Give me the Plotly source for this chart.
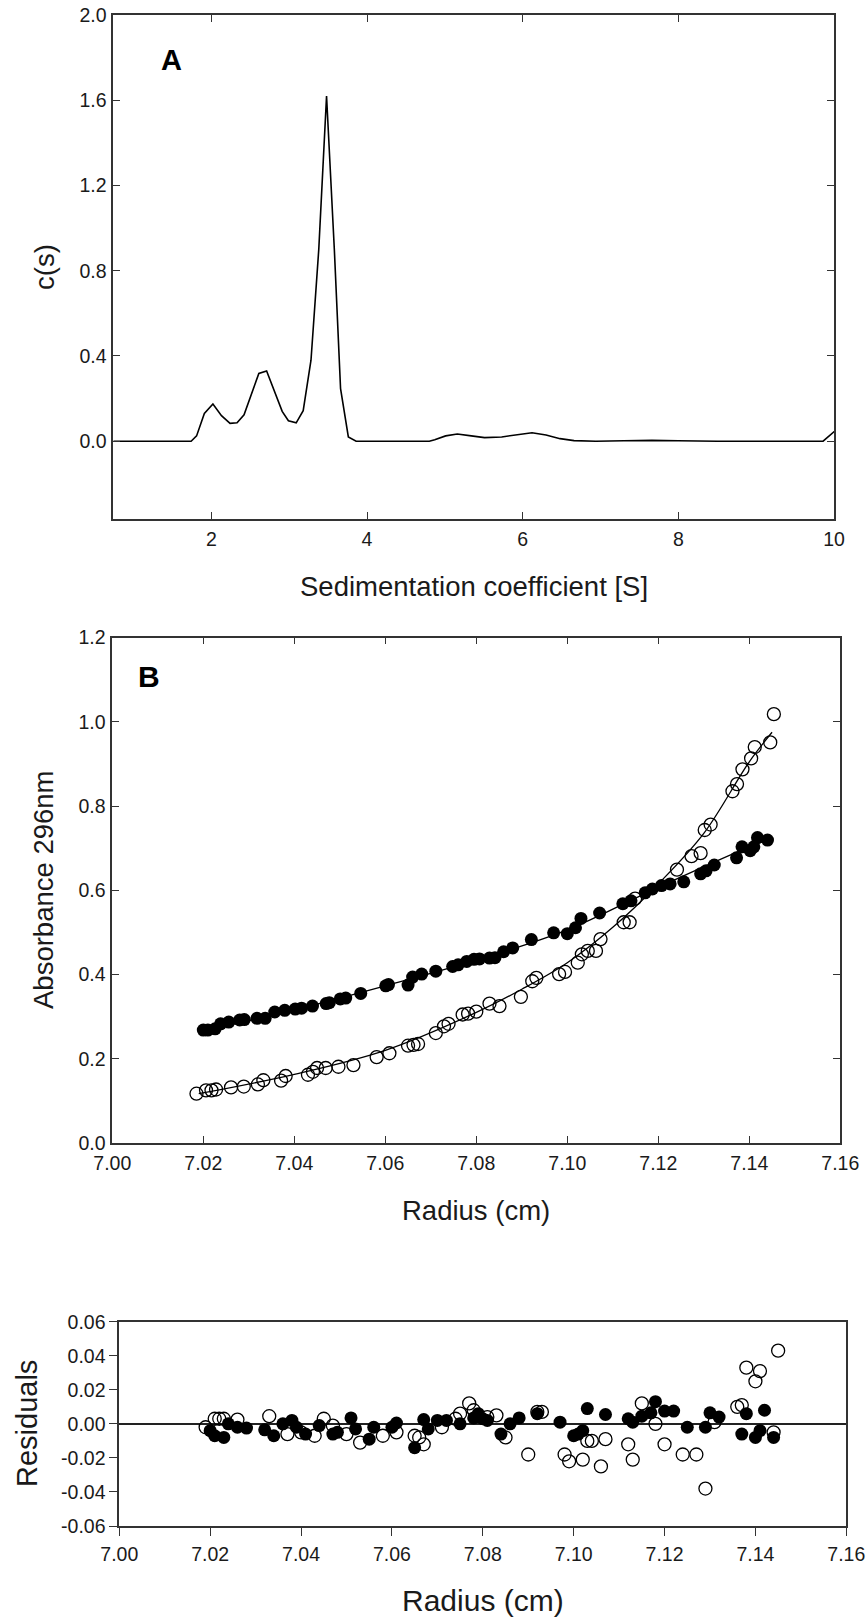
import plotly.graph_objects as go

# ---------------- Panel A: c(s) distribution ----------------
s_vals = [0.74, 1.74, 1.81, 1.91, 2.02, 2.13, 2.24, 2.33, 2.42, 2.51, 2.61, 2.71, 2.80, 2.91, 2.99,
          3.09, 3.18, 3.28, 3.38, 3.48, 3.58, 3.66, 3.76, 3.86, 4.80, 4.87, 5.01, 5.16, 5.34, 5.51,
          5.73, 5.94, 6.12, 6.30, 6.48, 6.66, 6.94, 7.30, 7.66, 8.00, 8.50, 9.86, 10.05]
cs_vals = [0.0, 0.0, 0.025, 0.13, 0.175, 0.12, 0.084, 0.087, 0.124, 0.22, 0.318, 0.33, 0.24, 0.14, 0.096,
           0.086, 0.143, 0.38, 0.9, 1.62, 0.9, 0.247, 0.02, 0.0, 0.0, 0.007, 0.025, 0.034, 0.025, 0.017,
           0.02, 0.032, 0.04, 0.029, 0.012, 0.003, 0.0, 0.002, 0.004, 0.002, 0.0, 0.0, 0.06]

# ---------------- Panel B: absorbance vs radius ----------------
r_filled = [7.0200, 7.0210, 7.0226, 7.0238, 7.0256, 7.0280, 7.0290, 7.0318, 7.0336, 7.0357, 7.0379,
            7.0402, 7.0416, 7.0440, 7.0470, 7.0477, 7.0501, 7.0513, 7.0546, 7.0601, 7.0607, 7.0650,
            7.0660, 7.0680, 7.0711, 7.0748, 7.0760, 7.0779, 7.0795, 7.0807, 7.0829, 7.0841, 7.0860,
            7.0880, 7.0921, 7.0970, 7.1000, 7.1018, 7.1030, 7.1071, 7.1122, 7.1140, 7.1171, 7.1187,
            7.1207, 7.1226, 7.1256, 7.1293, 7.1305, 7.1323, 7.1372, 7.1384, 7.1402, 7.1410, 7.1418,
            7.1440]
a_filled = [0.268, 0.268, 0.271, 0.283, 0.287, 0.292, 0.293, 0.296, 0.296, 0.311, 0.315,
            0.318, 0.320, 0.325, 0.331, 0.333, 0.342, 0.344, 0.355, 0.373, 0.376, 0.375,
            0.394, 0.401, 0.408, 0.419, 0.423, 0.431, 0.436, 0.437, 0.439, 0.440, 0.454,
            0.463, 0.483, 0.499, 0.497, 0.511, 0.533, 0.546, 0.568, 0.575, 0.594, 0.603,
            0.611, 0.615, 0.620, 0.639, 0.646, 0.660, 0.677, 0.703, 0.694, 0.703, 0.725,
            0.719]
r_open = [7.0185, 7.0206, 7.0218, 7.0228, 7.0261, 7.0289, 7.0320, 7.0332, 7.0371, 7.0381, 7.0430,
          7.0441, 7.0450, 7.0469, 7.0497, 7.0530, 7.0581, 7.0609, 7.0650, 7.0662, 7.0672, 7.0711,
          7.0729, 7.0739, 7.0770, 7.0782, 7.0800, 7.0829, 7.0851, 7.0898, 7.0923, 7.0932, 7.0982,
          7.0995, 7.1023, 7.1032, 7.1045, 7.1063, 7.1073, 7.1124, 7.1137, 7.1149, 7.1241, 7.1273,
          7.1293, 7.1302, 7.1315, 7.1363, 7.1373, 7.1385, 7.1404, 7.1412, 7.1446, 7.1454]
a_open = [0.117, 0.125, 0.125, 0.127, 0.132, 0.134, 0.139, 0.149, 0.148, 0.159, 0.162,
          0.169, 0.178, 0.178, 0.181, 0.185, 0.204, 0.213, 0.231, 0.233, 0.235, 0.261,
          0.277, 0.283, 0.305, 0.307, 0.312, 0.331, 0.325, 0.347, 0.384, 0.392, 0.401,
          0.406, 0.428, 0.448, 0.456, 0.456, 0.484, 0.524, 0.524, 0.580, 0.649, 0.681,
          0.688, 0.743, 0.756, 0.835, 0.852, 0.887, 0.913, 0.940, 0.951, 1.018]

# fitted curves
fit_filled_r = [7.020, 7.040, 7.060, 7.080, 7.100, 7.120, 7.140, 7.145]
fit_filled_a = [0.266, 0.316, 0.373, 0.434, 0.506, 0.607, 0.703, 0.724]
fit_open_r = [7.019, 7.040, 7.060, 7.080, 7.090, 7.100, 7.110, 7.120, 7.130, 7.140, 7.145]
fit_open_a = [0.117, 0.163, 0.220, 0.310, 0.365, 0.428, 0.512, 0.615, 0.735, 0.905, 0.975]

# ---------------- Residuals ----------------
res_open_r = [7.019, 7.021, 7.022, 7.023, 7.026, 7.033, 7.037, 7.040, 7.043, 7.045, 7.047, 7.050,
              7.053, 7.058, 7.061, 7.065, 7.066, 7.067, 7.071, 7.074, 7.075, 7.077, 7.078, 7.081,
              7.083, 7.085, 7.090, 7.092, 7.093, 7.098, 7.099, 7.102, 7.103, 7.104, 7.106, 7.107,
              7.112, 7.113, 7.115, 7.118, 7.120, 7.124, 7.127, 7.129, 7.131, 7.136, 7.137, 7.138,
              7.140, 7.141, 7.144, 7.145]
res_open_v = [-0.002, 0.003, 0.003, 0.003, 0.0025, 0.0045, -0.006, -0.005, -0.007, 0.003, -0.001, -0.006,
              -0.011, -0.007, -0.005, -0.007, -0.008, -0.012, -0.002, 0.003, 0.006, 0.012, 0.008, 0.004,
              0.005, -0.008, -0.018, 0.007, 0.007, -0.018, -0.022, -0.021, -0.010, -0.010, -0.025, -0.009,
              -0.012, -0.021, 0.012, 0.000, -0.012, -0.018, -0.018, -0.038, 0.001, 0.010, 0.011, 0.033,
              0.025, 0.031, -0.005, 0.043]
res_filled_r = [7.020, 7.021, 7.023, 7.024, 7.026, 7.028, 7.032, 7.034, 7.036, 7.038, 7.039, 7.041,
                7.044, 7.047, 7.048, 7.051, 7.052, 7.055, 7.056, 7.060, 7.061, 7.065, 7.067, 7.068,
                7.070, 7.072, 7.075, 7.078, 7.079, 7.080, 7.081, 7.084, 7.086, 7.088, 7.092, 7.097,
                7.100, 7.101, 7.102, 7.103, 7.107, 7.112, 7.113, 7.115, 7.117, 7.118, 7.120, 7.122,
                7.125, 7.129, 7.130, 7.132, 7.137, 7.138, 7.140, 7.141, 7.142, 7.144]
res_filled_v = [-0.004, -0.007, -0.008, 0.000, -0.002, -0.0025, -0.0035, -0.007, 0.000, 0.002, -0.002, -0.006,
                -0.001, -0.006, -0.005, 0.0035, -0.003, -0.009, -0.002, -0.002, 0.0005, -0.014, 0.0025, -0.003,
                0.002, 0.002, 0.000, 0.0035, 0.006, 0.003, 0.002, -0.006, 0.000, 0.0035, 0.006, 0.001,
                -0.007, -0.006, -0.004, 0.009, 0.0055, 0.003, 0.001, 0.0045, 0.0065, 0.013, 0.0075, 0.0075,
                -0.002, -0.002, 0.0065, 0.004, -0.006, 0.006, -0.008, -0.004, 0.008, -0.008]

a_xticks = [2, 4, 6, 8, 10]
a_yticks = [0.0, 0.4, 0.8, 1.2, 1.6, 2.0]
r_ticks = [7.00, 7.02, 7.04, 7.06, 7.08, 7.10, 7.12, 7.14, 7.16]
b_yticks = [0.0, 0.2, 0.4, 0.6, 0.8, 1.0, 1.2]
res_yticks = [-0.06, -0.04, -0.02, 0.00, 0.02, 0.04, 0.06]
res_ylabels = ["-0.06", "-0.04", "-0.02", "0.00", "0.02", "0.04", "0.06"]

W, H = 867, 1619


def xd(left, right):
    return [left / W, right / W]


def yd(top, bottom):
    return [1 - bottom / H, 1 - top / H]


FONT = "Liberation Sans, Arial, sans-serif"
TXT = "#1a1a1a"
LINE = "#333333"
tickfont = dict(family=FONT, size=19.5, color=TXT)
MS = 13

fig = go.Figure()

fig.add_trace(go.Scatter(x=s_vals, y=cs_vals, mode="lines", line=dict(color="black", width=1.6),
                         xaxis="x", yaxis="y", showlegend=False))

fig.add_trace(go.Scatter(x=fit_filled_r, y=fit_filled_a, mode="lines", line=dict(color="black", width=1.3, shape="spline"),
                         xaxis="x2", yaxis="y2", showlegend=False))
fig.add_trace(go.Scatter(x=fit_open_r, y=fit_open_a, mode="lines", line=dict(color="black", width=1.3, shape="spline"),
                         xaxis="x2", yaxis="y2", showlegend=False))
fig.add_trace(go.Scatter(x=r_filled, y=a_filled, mode="markers",
                         marker=dict(symbol="circle", size=MS, color="black"),
                         xaxis="x2", yaxis="y2", showlegend=False))
fig.add_trace(go.Scatter(x=r_open, y=a_open, mode="markers",
                         marker=dict(symbol="circle-open", size=MS, color="black", line=dict(width=1.3, color="black")),
                         xaxis="x2", yaxis="y2", showlegend=False))

fig.add_trace(go.Scatter(x=res_filled_r, y=res_filled_v, mode="markers",
                         marker=dict(symbol="circle", size=MS, color="black"),
                         xaxis="x3", yaxis="y3", showlegend=False))
fig.add_trace(go.Scatter(x=res_open_r, y=res_open_v, mode="markers",
                         marker=dict(symbol="circle-open", size=MS, color="black", line=dict(width=1.3, color="black")),
                         xaxis="x3", yaxis="y3", showlegend=False))

common_in = dict(showline=True, linecolor=LINE, linewidth=1.8, mirror="allticks", ticks="inside",
                 ticklen=7, tickwidth=1.3, tickcolor=LINE, showgrid=False, zeroline=False,
                 tickfont=tickfont, automargin=False, ticklabelposition="outside")
common_out = dict(showline=True, linecolor=LINE, linewidth=1.8, mirror=True,
                  ticks="outside", ticklen=8, tickwidth=1.3, tickcolor=LINE, showgrid=False,
                  tickfont=tickfont, automargin=False, ticklabelposition="outside")

fig.update_layout(
    width=W, height=H,
    margin=dict(l=0, r=0, t=0, b=0, autoexpand=False),
    paper_bgcolor="white", plot_bgcolor="white",
    xaxis=dict(domain=xd(113.3, 834), anchor="y", range=[0.74, 10], tickvals=a_xticks,
               ticklabelstandoff=2, **common_in),
    yaxis=dict(domain=yd(15, 519), anchor="x", range=[-0.365, 2.0], tickvals=a_yticks,
               tickformat=".1f", ticklabelstandoff=1, **common_in),
    xaxis2=dict(domain=xd(112.3, 840.3), anchor="y2", range=[7.0, 7.16], tickvals=r_ticks,
                tickformat=".2f", ticklabelstandoff=2, **common_in),
    yaxis2=dict(domain=yd(637.5, 1143), anchor="x2", range=[0, 1.2], tickvals=b_yticks,
                tickformat=".1f", ticklabelstandoff=1, **common_in),
    xaxis3=dict(domain=xd(119.3, 846.3), anchor="y3", range=[7.0, 7.16], tickvals=r_ticks,
                tickformat=".2f", zeroline=False, ticklabelstandoff=2, **common_out),
    yaxis3=dict(domain=yd(1321.7, 1526), anchor="x3", range=[-0.06, 0.06], tickvals=res_yticks,
                ticktext=res_ylabels, zeroline=True, zerolinecolor="#222222", zerolinewidth=1.8,
                ticklabelstandoff=0, **common_out),
)

title_font = dict(family=FONT, size=27.5, color=TXT)
ann = [
    dict(text="c(s)", x=44 / W, y=1 - 267 / H, textangle=-90, font=title_font),
    dict(text="Sedimentation coefficient [S]", x=474 / W, y=1 - 586 / H, font=title_font),
    dict(text="Absorbance 296nm", x=43 / W, y=1 - 890 / H, textangle=-90, font=title_font),
    dict(text="Radius (cm)", x=476 / W, y=1 - 1210 / H, font=title_font),
    dict(text="Residuals", x=27 / W, y=1 - 1424 / H, textangle=-90, font=dict(family=FONT, size=29, color=TXT)),
    dict(text="Radius (cm)", x=483 / W, y=1 - 1600 / H, font=dict(family=FONT, size=30, color=TXT)),
    dict(text="<b>A</b>", x=171 / W, y=1 - 60 / H, font=dict(family=FONT, size=29, color="black")),
    dict(text="<b>B</b>", x=149 / W, y=1 - 677 / H, font=dict(family=FONT, size=30, color="black")),
]
for a in ann:
    a.update(xref="paper", yref="paper", showarrow=False, xanchor="center", yanchor="middle")
fig.update_layout(annotations=ann)

fig.write_html("out.html", config={"displayModeBar": False},
               post_script="document.body.style.margin='0px';")
